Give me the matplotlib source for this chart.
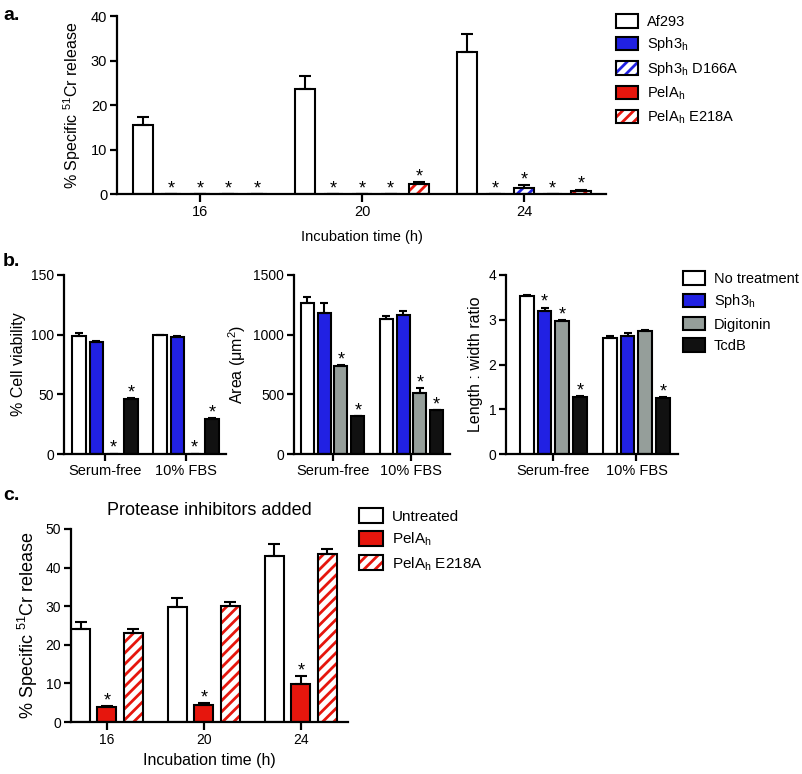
import numpy as np
import matplotlib
matplotlib.use("Agg")
import matplotlib.pyplot as plt
from matplotlib.patches import Patch

plt.rcParams['font.family'] = ['Liberation Sans', 'DejaVu Sans']
plt.rcParams['mathtext.fontset'] = 'custom'
plt.rcParams['mathtext.rm'] = 'Liberation Sans'
plt.rcParams['hatch.linewidth'] = 2.0

BLUE = '#2121e3'
RED = '#e6160d'
GRAY = '#959e9a'
BLACK = '#111111'

# ---- panel a data ----
a_times = ['16', '20', '24']
a_af293 = [15.5, 23.5, 32.0]
a_af293_err = [1.9, 3.0, 4.0]
a_sph3 = [0, 0, 0]
a_sph3_err = [0, 0, 0]
a_sph3_d166a = [0, 0, 1.4]
a_sph3_d166a_err = [0, 0, 0.6]
a_pela = [0, 0, 0]
a_pela_err = [0, 0, 0]
a_pela_e218a = [0, 2.2, 0.6]
a_pela_e218a_err = [0, 0.4, 0.4]

# ---- panel b data ----
b_groups = ['Serum-free', '10% FBS']
via_none = [99, 99.5];  via_none_err = [2.0, 0.5]
via_sph3 = [94, 98];    via_sph3_err = [0.8, 0.5]
via_dig = [0.4, 0.4];   via_dig_err = [0, 0]
via_tcdb = [46, 29];    via_tcdb_err = [1.0, 1.0]

area_none = [1265, 1130]; area_none_err = [50, 30]
area_sph3 = [1180, 1165]; area_sph3_err = [85, 30]
area_dig = [740, 510];    area_dig_err = [8, 40]
area_tcdb = [315, 365];   area_tcdb_err = [6, 6]

ratio_none = [3.52, 2.60]; ratio_none_err = [0.04, 0.03]
ratio_sph3 = [3.20, 2.63]; ratio_sph3_err = [0.07, 0.07]
ratio_dig = [2.97, 2.74];  ratio_dig_err = [0.03, 0.04]
ratio_tcdb = [1.27, 1.25]; ratio_tcdb_err = [0.02, 0.02]

# ---- panel c data ----
c_times = ['16', '20', '24']
c_untreated = [24.0, 29.8, 43.0]; c_untreated_err = [2.0, 2.4, 3.0]
c_pela = [3.8, 4.3, 9.8];         c_pela_err = [0.3, 0.5, 2.2]
c_e218a = [23.0, 30.0, 43.4];     c_e218a_err = [1.2, 1.2, 1.4]

W, H = 802, 774
fig = plt.figure(figsize=(W / 100, H / 100), dpi=100)


def axes_px(x0, x1, ytop, ybot):
    return fig.add_axes([x0 / W, 1 - ybot / H, (x1 - x0) / W, (ybot - ytop) / H])


def style(ax, fs):
    for s in ['top', 'right']:
        ax.spines[s].set_visible(False)
    for s in ['left', 'bottom']:
        ax.spines[s].set_linewidth(1.6)
    ax.tick_params(direction='out', length=5, width=1.6, labelsize=fs, pad=2)


def bars(ax, xs, vals, errs, width, face, hatch_col=None, stars=None, cap=3.5):
    xs = np.asarray(xs)
    if hatch_col:
        ax.bar(xs, vals, width, color='white', edgecolor=hatch_col, hatch='///', lw=0)
        ax.bar(xs, vals, width, fill=False, edgecolor='k', lw=1.5)
    else:
        ax.bar(xs, vals, width, color=face, edgecolor='k', lw=1.5)
    ax.errorbar(xs, vals, yerr=[np.zeros(len(vals)), errs], fmt='none', ecolor='k',
                elinewidth=1.5, capsize=cap, capthick=1.5)
    if stars:
        for x, v, e, s in zip(xs, vals, errs, stars):
            if s:
                ax.annotate('*', (x, v + e), xytext=(0, 0.5), textcoords='offset points',
                            ha='center', va='baseline', fontsize=13)


def hatch_handle(col):
    return (Patch(facecolor='white', edgecolor=col, hatch='///', lw=0),
            Patch(fill=False, edgecolor='k', lw=1.5))


# ================= panel a =================
ax = axes_px(117, 606, 16, 194)
style(ax, 10.5)
g = np.arange(3)
sp, w = 0.176, 0.123
series = [(a_af293, a_af293_err, 'white', None, [0, 0, 0]),
          (a_sph3, a_sph3_err, BLUE, None, [1, 1, 1]),
          (a_sph3_d166a, a_sph3_d166a_err, None, BLUE, [1, 1, 1]),
          (a_pela, a_pela_err, RED, None, [1, 1, 1]),
          (a_pela_e218a, a_pela_e218a_err, None, RED, [1, 1, 1])]
for i, (v, e, f, hc, st) in enumerate(series):
    bars(ax, g + (i - 2) * sp, v, e, w, f, hc, st, cap=4)
ax.set_xlim(-0.512, 2.506)
ax.set_ylim(0, 40)
ax.set_yticks([0, 10, 20, 30, 40])
ax.set_xticks(g)
ax.set_xticklabels(a_times)
ax.tick_params(axis='x', length=6)
ax.set_xlabel('Incubation time (h)', fontsize=10.5, labelpad=8)
ax.set_ylabel(r'% Specific $^{\mathregular{51}}$Cr release', fontsize=11.5, labelpad=6)

a_labels = ['Af293', r'Sph3$_{\mathregular{h}}$', r'Sph3$_{\mathregular{h}}$ D166A',
            r'PelA$_{\mathregular{h}}$', r'PelA$_{\mathregular{h}}$ E218A']
a_handles = [Patch(facecolor='white', edgecolor='k', lw=1.5),
             Patch(facecolor=BLUE, edgecolor='k', lw=1.5),
             hatch_handle(BLUE),
             Patch(facecolor=RED, edgecolor='k', lw=1.5),
             hatch_handle(RED)]
fig.legend(a_handles, a_labels, loc='upper left', bbox_to_anchor=(616 / W, 1 - 14 / H),
           frameon=False, fontsize=10.5, handlelength=1.5, handleheight=1.05,
           labelspacing=0.45, handletextpad=0.6, borderpad=0, borderaxespad=0)

# ================= panel b =================
gb = np.arange(2)
bsp, bw = 0.213, 0.165
b_panels = [
    ((64, 226), (via_none, via_sph3, via_dig, via_tcdb),
     (via_none_err, via_sph3_err, via_dig_err, via_tcdb_err),
     [[0, 0], [0, 0], [1, 1], [1, 1]], (0, 150), [0, 50, 100, 150], '% Cell viability', (-0.506, 1.494)),
    ((294, 450), (area_none, area_sph3, area_dig, area_tcdb),
     (area_none_err, area_sph3_err, area_dig_err, area_tcdb_err),
     [[0, 0], [0, 0], [1, 1], [1, 1]], (0, 1500), [0, 500, 1000, 1500], 'Area (μm$^{\mathregular{2}}$)', (-0.49, 1.49)),
    ((506, 678), (ratio_none, ratio_sph3, ratio_dig, ratio_tcdb),
     (ratio_none_err, ratio_sph3_err, ratio_dig_err, ratio_tcdb_err),
     [[0, 0], [1, 0], [1, 0], [1, 1]], (0, 4), [0, 1, 2, 3, 4], 'Length : width ratio', (-0.57, 1.5)),
]
b_faces = ['white', BLUE, GRAY, BLACK]
for (x0, x1), vals, errs, stars, ylim, yt, ylab, xl in b_panels:
    ax = axes_px(x0, x1, 275, 454)
    style(ax, 10)
    for i in range(4):
        bars(ax, gb + (i - 1.5) * bsp, vals[i], errs[i], bw, b_faces[i], None, stars[i], cap=3)
    ax.set_xlim(*xl)
    ax.set_ylim(*ylim)
    ax.set_yticks(yt)
    ax.set_xticks(gb)
    ax.set_xticklabels(b_groups, fontsize=10.5)
    ax.set_ylabel(ylab, fontsize=11.5, labelpad=4)

b_labels = ['No treatment', r'Sph3$_{\mathregular{h}}$', 'Digitonin', 'TcdB']
b_handles = [Patch(facecolor=f, edgecolor='k', lw=1.5) for f in b_faces]
fig.legend(b_handles, b_labels, loc='upper left', bbox_to_anchor=(683 / W, 1 - 271 / H),
           frameon=False, fontsize=10.5, handlelength=1.5, handleheight=1.05,
           labelspacing=0.45, handletextpad=0.6, borderpad=0, borderaxespad=0)

# ================= panel c =================
ax = axes_px(71, 348, 529, 722)
style(ax, 10)
gc = np.arange(3)
csp, cw = 0.273, 0.196
bars(ax, gc - csp, c_untreated, c_untreated_err, cw, 'white', None, [0, 0, 0], cap=4)
bars(ax, gc, c_pela, c_pela_err, cw, RED, None, [1, 1, 1], cap=4)
bars(ax, gc + csp, c_e218a, c_e218a_err, cw, None, RED, [0, 0, 0], cap=4)
ax.set_xlim(-0.371, 2.485)
ax.set_ylim(0, 50)
ax.set_yticks([0, 10, 20, 30, 40, 50])
ax.set_xticks(gc)
ax.set_xticklabels(c_times)
ax.tick_params(axis='x', length=6)
ax.set_xlabel('Incubation time (h)', fontsize=11.5, labelpad=4)
ax.set_ylabel(r'% Specific $^{\mathregular{51}}$Cr release', fontsize=13, labelpad=4)
ax.set_title('Protease inhibitors added', fontsize=13, pad=10)

c_labels = ['Untreated', r'PelA$_{\mathregular{h}}$', r'PelA$_{\mathregular{h}}$ E218A']
c_handles = [Patch(facecolor='white', edgecolor='k', lw=1.5),
             Patch(facecolor=RED, edgecolor='k', lw=1.5),
             hatch_handle(RED)]
fig.legend(c_handles, c_labels, loc='upper left', bbox_to_anchor=(359 / W, 1 - 508 / H),
           frameon=False, fontsize=11, handlelength=1.55, handleheight=1.1,
           labelspacing=0.45, handletextpad=0.6, borderpad=0, borderaxespad=0)

# panel letters
fig.text(3 / W, 1 - 16 / H, 'a.', fontsize=14, fontweight='bold', va='center')
fig.text(3 / W, 1 - 261 / H, 'b.', fontsize=14, fontweight='bold', va='center')
fig.text(3 / W, 1 - 496 / H, 'c.', fontsize=14, fontweight='bold', va='center')

fig.savefig('out.png', dpi=100)
